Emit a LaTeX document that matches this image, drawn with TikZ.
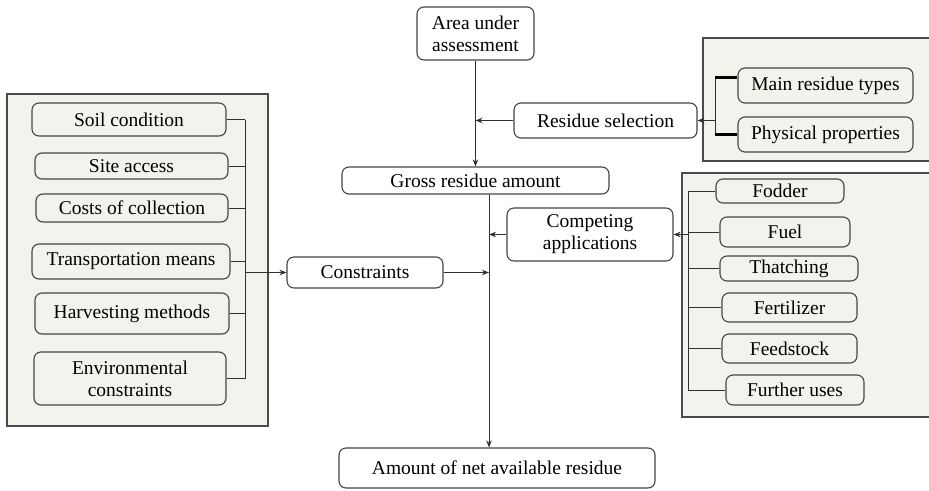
\documentclass[tikz,border=0pt]{standalone}
\usepackage{fontspec}
\setmainfont{Liberation Serif}
\usetikzlibrary{arrows.meta,calc}
\definecolor{panel}{HTML}{F3F3EE}
\definecolor{boxline}{HTML}{444444}
\definecolor{connline}{HTML}{303030}
\definecolor{panelline}{HTML}{4A4A4A}
\begin{document}
\begin{tikzpicture}[x=1pt,y=-1pt,
  box/.style={draw=boxline, line width=1.1pt, rounded corners=7pt, fill=white,
    inner sep=0pt, align=center, font=\fontsize{19.5}{22}\selectfont, text=black},
  pbox/.style={box, fill=panel},
  conn/.style={draw=connline, line width=1pt},
  thickconn/.style={draw=black, line width=2.2pt},
  arr/.style={conn, -{Stealth[length=7pt,width=5.5pt]}},
  panelst/.style={fill=panel, draw=panelline, line width=1.4pt},
]
\useasboundingbox (0,0) rectangle (929,490);

% panels
\draw[panelst] (7,94) rectangle (268,426);
\fill[panel] (703,38) rectangle (929,161);
\draw[draw=panelline, line width=1.4pt] (929,38) -- (703,38) -- (703,161) -- (929,161);
\fill[panel] (682,173) rectangle (929,417);
\draw[draw=panelline, line width=1.4pt] (929,173) -- (682,173) -- (682,417) -- (929,417);

% central column
\node[box, minimum width=117pt, minimum height=53pt] (area) at (475.5,33.5) {Area under\\assessment};
\node[box, minimum width=267pt, minimum height=27pt] (gross) at (475.5,180.5) {Gross residue amount};
\node[box, minimum width=183pt, minimum height=35pt] (sel) at (605.5,120.5) {Residue selection};
\node[box, minimum width=166pt, minimum height=53pt] (comp) at (590,234.5) {Competing\\applications};
\node[box, minimum width=156pt, minimum height=31pt] (cons) at (365,272.5) {Constraints};
\node[box, minimum width=316pt, minimum height=40pt] (net) at (497,468) {Amount of net available residue};

% left panel
\node[pbox, minimum width=194pt, minimum height=33pt] (soil) at (129,119.5) {Soil condition};
\node[pbox, minimum width=193pt, minimum height=26pt] (site) at (131.5,166) {Site access};
\node[pbox, minimum width=192pt, minimum height=28pt] (costs) at (132,208) {Costs of collection};
\node[pbox, minimum width=198pt, minimum height=35pt] (trans) at (131,261.5) {Transportation means};
\node[pbox, minimum width=194pt, minimum height=41pt] (harv) at (132,313.5) {Harvesting methods};
\node[pbox, minimum width=192pt, minimum height=53pt] (env) at (130,378.5) {Environmental\\constraints};

% top right panel
\node[pbox, minimum width=175pt, minimum height=35pt] (mrt) at (825.5,85.5) {Main residue types};
\node[pbox, minimum width=175pt, minimum height=35pt] (phys) at (825.5,134.5) {Physical properties};

% bottom right panel
\node[pbox, minimum width=128pt, minimum height=24pt] (fodder) at (780,191) {Fodder};
\node[pbox, minimum width=130pt, minimum height=30pt] (fuel) at (785,232) {Fuel};
\node[pbox, minimum width=138pt, minimum height=25pt] (thatch) at (789,268.5) {Thatching};
\node[pbox, minimum width=135pt, minimum height=29pt] (fert) at (789.5,307.5) {Fertilizer};
\node[pbox, minimum width=135pt, minimum height=29pt] (feed) at (789.5,348.5) {Feedstock};
\node[pbox, minimum width=138pt, minimum height=30pt] (further) at (795,390) {Further uses};

% bus coordinates
\coordinate (lbus) at (245,0);
\coordinate (rbus) at (715,0);
\coordinate (cbus) at (688,0);
\coordinate (mtop) at ($(gross.south)+(13.5,0)$);

% main flow
\draw[arr] (area.south) -- (gross.north);
\draw[arr] (sel.west) -- (sel.west -| area.south);
\draw[arr] (mtop) -- (mtop |- net.north);
\draw[arr] (comp.west) -- (comp.west -| mtop);
\draw[arr] (cons.east) -- (cons.east -| mtop);

% left bus
\draw[conn] (soil.east -| lbus) -- (env.east -| lbus);
\foreach \n in {soil,site,costs,trans,harv,env}
  \draw[conn] (\n.east) -- (\n.east -| lbus);
\draw[arr] (cons.west -| lbus) -- (cons.west);

% top right bracket
\coordinate (mrtj) at ($(mrt.west)+(0,-8)$);
\draw[conn] (mrtj -| rbus) -- (phys.west -| rbus);
\draw[thickconn] (mrtj -| rbus) -- (mrtj);
\draw[thickconn] (phys.west -| rbus) -- (phys.west);
\draw[arr] (sel.east -| rbus) -- (sel.east);

% bottom right bus
\draw[conn] (fodder.west -| cbus) -- (further.west -| cbus);
\foreach \n in {fodder,fuel,thatch,fert,feed,further}
  \draw[conn] (\n.west -| cbus) -- (\n.west);
\draw[arr] (comp.east -| cbus) -- (comp.east);
\end{tikzpicture}
\end{document}
